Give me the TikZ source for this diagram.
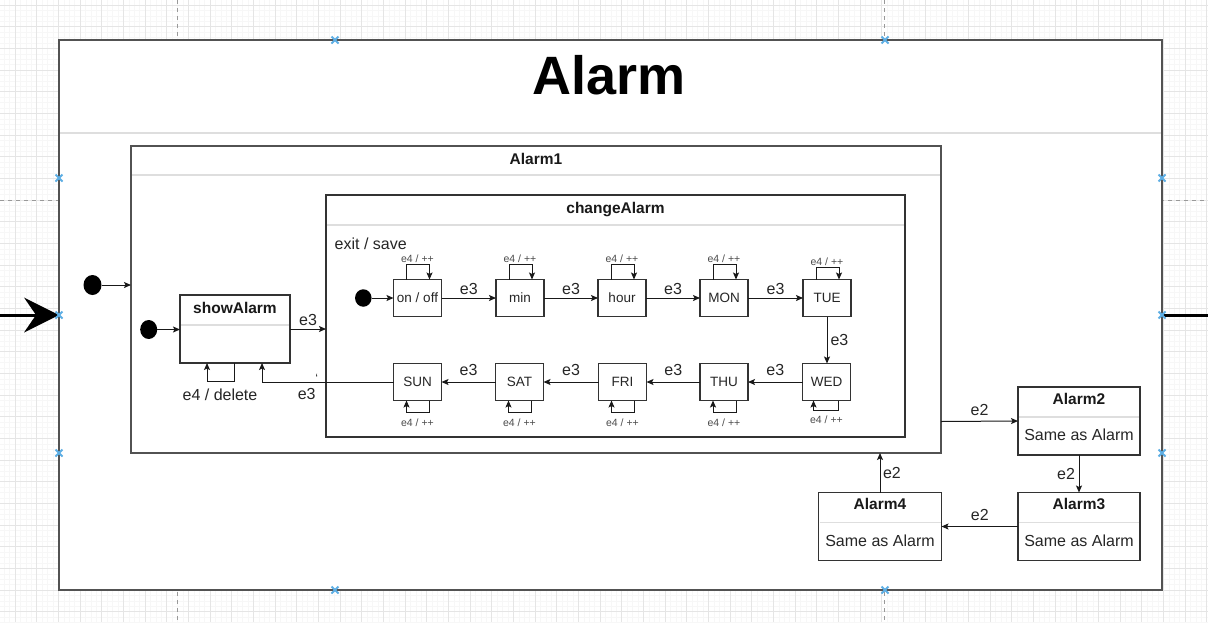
\documentclass[tikz,border=0pt]{standalone}
\usepackage{fontspec}
\setmainfont{Liberation Sans}
\usetikzlibrary{arrows.meta, positioning, shapes.geometric}

\begin{document}
\begin{tikzpicture}[x=1pt,y=-1pt,
  every node/.style={text=black!85, font=\fontsize{16}{19}\selectfont},
  frame/.style={draw=black!68, line width=2pt, fill=white, inner sep=0pt, outer sep=0pt},
  compound/.style={draw=black!80, line width=1.4pt, fill=white, inner sep=0pt, outer sep=0pt},
  daystate/.style={draw=black!80, line width=1.3pt, fill=white, minimum width=48pt, minimum height=37pt, inner sep=0pt, outer sep=0pt, font=\fontsize{13.5}{16}\selectfont},
  sepline/.style={draw=black!13, line width=1.5pt},
  title/.style={font=\bfseries\fontsize{15.5}{18}\selectfont, text=black!90},
  initdot/.style={ellipse, fill=black, inner sep=0pt, outer sep=0pt},
  tr/.style={draw=black!90, line width=1pt, -{Stealth[length=7pt,width=6pt,inset=1.5pt]}},
  lbl/.style={inner sep=1pt},
  tiny/.style={font=\fontsize{10.5}{12}\selectfont, text=black!70, inner sep=0pt},
  handle/.style={draw=cyan!75!blue!65, line width=1.8pt},
  gridminor/.style={draw=black!3, line width=0.5pt},
  gridmajor/.style={draw=black!10, line width=0.8pt},
  pageline/.style={draw=black!40, dash pattern=on 4pt off 4pt, line width=0.8pt}
]
\useasboundingbox (0,0) rectangle (1208,622);
\fill[white] (0,0) rectangle (1208,622);
\foreach \i in {0,...,222} \draw[gridminor] ({4.167+5.4167*\i},0) -- ({4.167+5.4167*\i},622);
\foreach \i in {0,...,114} \draw[gridminor] (0,{5+5.4167*\i}) -- (1208,{5+5.4167*\i});
\foreach \i in {0,...,55} \draw[gridmajor] ({15+21.667*\i},0) -- ({15+21.667*\i},622);
\foreach \i in {0,...,28} \draw[gridmajor] (0,{5+21.667*\i}) -- (1208,{5+21.667*\i});
\draw[pageline] (177.5,0) -- (177.5,622);
\draw[pageline] (884,0) -- (884,622);
\draw[pageline] (0,200) -- (1208,200);

\node[frame, minimum width=1103pt, minimum height=550pt] (alarm) at (610.5,315) {};
\draw[sepline] ([shift={(1pt,-93pt)}]alarm.north west) -- ([shift={(-1pt,-93pt)}]alarm.north east);
\node[font=\bfseries\fontsize{54}{60}\selectfont, text=black] (alarmtitle) at (609,75) {Alarm};

\node[frame, minimum width=810pt, minimum height=307pt] (alarm1) at (536,299.5) {};
\draw[sepline] ([shift={(1pt,-29pt)}]alarm1.north west) -- ([shift={(-1pt,-29pt)}]alarm1.north east);
\node[title] (alarm1title) at ([yshift=-12.5pt]alarm1.north) {Alarm1};

\node[compound, minimum width=579pt, minimum height=242pt] (change) at (615.5,316) {};
\draw[sepline] ([shift={(1pt,-30pt)}]change.north west) -- ([shift={(-1pt,-30pt)}]change.north east);
\node[title] (changetitle) at ([yshift=-14.5pt]change.north) {changeAlarm};
\node[anchor=west, inner sep=0pt] (exitsave) at (334.5,244) {exit / save};

\node[compound, minimum width=110pt, minimum height=68pt] (show) at (235,329) {};
\draw[sepline] ([shift={(1pt,-30pt)}]show.north west) -- ([shift={(-1pt,-30pt)}]show.north east);
\node[title] (showtitle) at ([yshift=-12.5pt]show.north) {showAlarm};

\node[daystate] (onoff) at (417.5,298) {on / off};
\node[daystate] (min) at (520,298) {min};
\node[daystate] (hour) at (622,298) {hour};
\node[daystate] (mon) at (724,298) {MON};
\node[daystate] (tue) at (827,298) {TUE};
\node[daystate] (wed) at (826.5,382) {WED};
\node[daystate] (thu) at (724,382) {THU};
\node[daystate] (fri) at (622.5,382) {FRI};
\node[daystate] (sat) at (519.5,382) {SAT};
\node[daystate] (sun) at (417.5,382) {SUN};

\node[compound, minimum width=122pt, minimum height=68pt] (alarm2) at (1079,421) {};
\draw[sepline] ([shift={(1pt,-30pt)}]alarm2.north west) -- ([shift={(-1pt,-30pt)}]alarm2.north east);
\node[title] (alarm2title) at ([yshift=-11.5pt]alarm2.north) {Alarm2};
\node (alarm2body) at ([yshift=20pt]alarm2.south) {Same as Alarm};

\node[compound, minimum width=122pt, minimum height=68pt] (alarm3) at (1079,526.5) {};
\draw[sepline] ([shift={(1pt,-30pt)}]alarm3.north west) -- ([shift={(-1pt,-30pt)}]alarm3.north east);
\node[title] (alarm3title) at ([yshift=-11.5pt]alarm3.north) {Alarm3};
\node (alarm3body) at ([yshift=20pt]alarm3.south) {Same as Alarm};

\node[compound, minimum width=123pt, minimum height=68pt] (alarm4) at (880,526.5) {};
\draw[sepline] ([shift={(1pt,-30pt)}]alarm4.north west) -- ([shift={(-1pt,-30pt)}]alarm4.north east);
\node[title] (alarm4title) at ([yshift=-11.5pt]alarm4.north) {Alarm4};
\node (alarm4body) at ([yshift=20pt]alarm4.south) {Same as Alarm};

\node[initdot, minimum width=18pt, minimum height=20pt] (init0) at (92.5,285) {};
\node[initdot, minimum width=17pt, minimum height=19pt] (init1) at (148.7,329.5) {};
\node[initdot, minimum width=16.5pt, minimum height=17.5pt] (init2) at (363.3,298) {};

\draw[tr] (init0) -- (init0 -| alarm1.west);
\draw[tr] (init1) -- (init1 -| show.west);
\draw[tr] (init2) -- (onoff);
\draw[tr] (show.east) -- node[lbl, above=2pt] {e3} (show.east -| change.west);
\draw[tr] ([xshift=-1pt]show.south) -- ++(0,18) -| ([xshift=-28pt]show.south);
\node (deletelbl) at (220,395) {e4 / delete};
\draw[tr] (sun.west) -| ([xshift=27pt]show.south);
\node[lbl] (backlbl) at (306.7,394.3) {e3};
\node[lbl, font=\fontsize{12}{14}\selectfont] (tick) at (316.7,378) {`};

\draw[tr] (onoff) -- node[lbl, above=1.5pt] {e3} (min);
\draw[tr] (min) -- node[lbl, above=1.5pt] {e3} (hour);
\draw[tr] (hour) -- node[lbl, above=1.5pt] {e3} (mon);
\draw[tr] (mon) -- node[lbl, above=1.5pt] {e3} (tue);
\draw[tr] (tue) -- node[lbl, right=2pt] {e3} (tue |- wed.north);
\draw[tr] (wed) -- node[lbl, above=5pt] {e3} (thu);
\draw[tr] (thu) -- node[lbl, above=5pt] {e3} (fri);
\draw[tr] (fri) -- node[lbl, above=5pt] {e3} (sat);
\draw[tr] (sat) -- node[lbl, above=5pt] {e3} (sun);

\foreach \n in {onoff,min,hour,mon} {
  \draw[tr] ([xshift=-11pt]\n.north) -- ++(0,-15) -| ([xshift=12pt]\n.north);
  \node[tiny] at ([yshift=20.5pt]\n.north) {e4 / ++};
}
\draw[tr] ([xshift=-11pt]tue.north) -- ++(0,-12.5) -| ([xshift=12pt]tue.north);
\node[tiny] at ([yshift=18pt]tue.north) {e4 / ++};
\foreach \n in {thu,fri,sat,sun} {
  \draw[tr] ([xshift=12pt]\n.south) -- ++(0,12) -| ([xshift=-11pt]\n.south);
  \node[tiny] at ([yshift=-22pt]\n.south) {e4 / ++};
}
\draw[tr] ([xshift=12pt]wed.south) -- ++(0,10) -| ([xshift=-13pt]wed.south);
\node[tiny] at ([yshift=-19pt]wed.south) {e4 / ++};

\draw[tr] ([yshift=-122pt]alarm1.east) -- node[lbl, above=4.5pt] {e2} (alarm2.west);
\draw[tr] (alarm2) -- node[lbl, left=2.5pt] {e2} (alarm3);
\draw[tr] (alarm3) -- node[lbl, above=4pt] {e2} (alarm4);
\draw[tr] (alarm4) -- node[lbl, right=1.5pt] {e2} (alarm4.north |- alarm1.south);

\coordinate (entry) at (0,315);
\coordinate (exitend) at (1208,315);
\draw[line width=3pt, black, -{Stealth[length=35pt,width=35pt,inset=12pt,line width=0pt]}] (entry) -- (alarm.west);
\draw[line width=3pt, black] (alarm.east) -- (exitend);

\foreach \hx/\hy in {335/40,885/40,335/590,885/590,59/178,59/315,59/453,1162/178,1162/315,1162/453}
  \draw[handle] (\hx-3.5,\hy-3.5) -- (\hx+3.5,\hy+3.5) (\hx-3.5,\hy+3.5) -- (\hx+3.5,\hy-3.5);
\end{tikzpicture}
\end{document}
